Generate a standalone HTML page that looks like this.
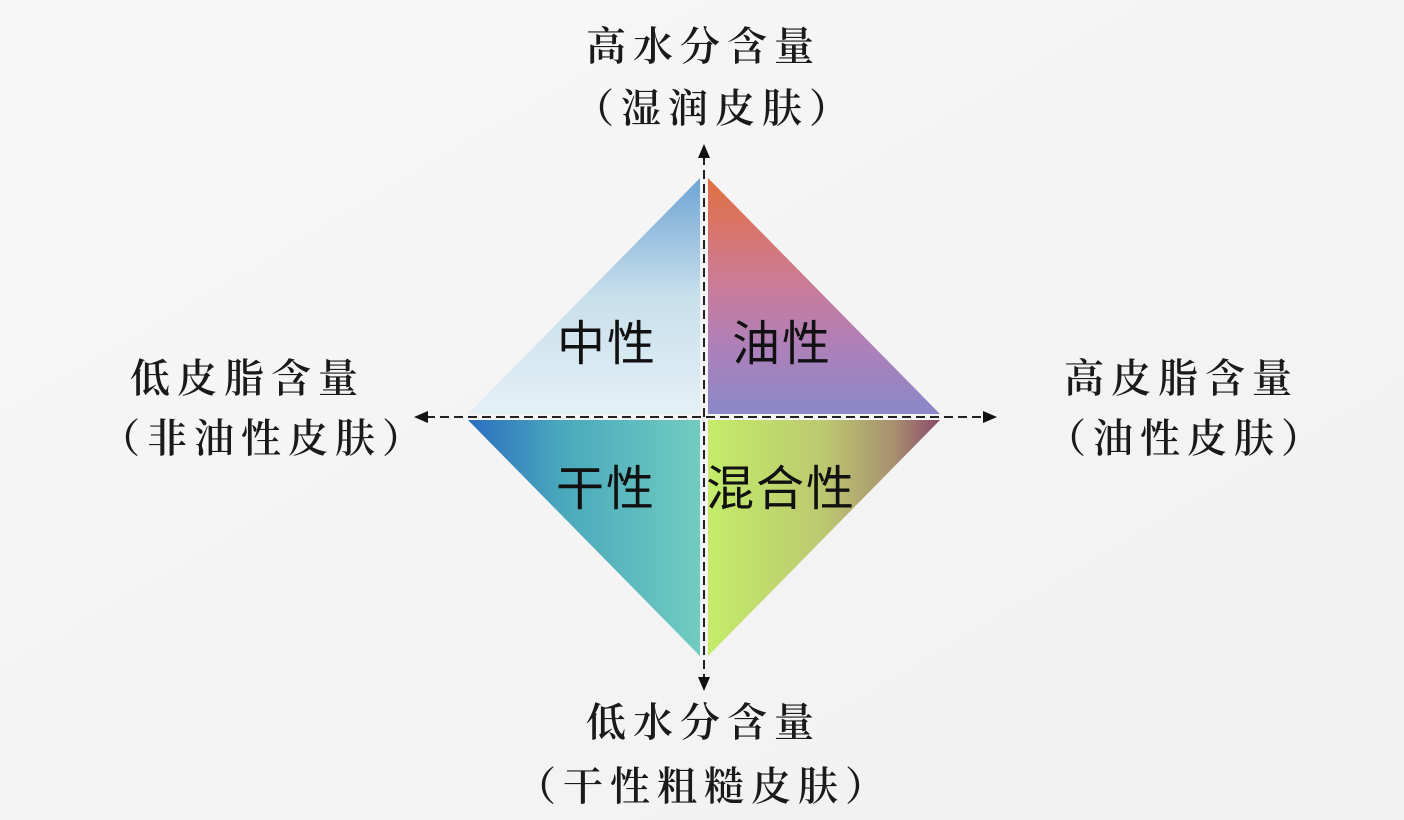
<!DOCTYPE html>
<html><head><meta charset="utf-8"><style>
html,body{margin:0;padding:0;width:1404px;height:820px;overflow:hidden;background:#f4f4f4}
svg{display:block}
.s{font-family:"Liberation Serif","Noto Serif CJK SC",serif;font-size:40px;font-weight:600;fill:#1a1a1a;letter-spacing:7px}
.q{font-family:"Liberation Sans","Noto Sans CJK SC",sans-serif;font-size:48px;font-weight:400;fill:#111;letter-spacing:2px}
</style></head><body>
<svg width="1404" height="820" viewBox="0 0 1404 820">
<defs>
<linearGradient id="bg" x1="0" y1="0" x2="1" y2="1"><stop offset="0" stop-color="#f7f7f7"/><stop offset="1" stop-color="#f1f1f1"/></linearGradient>
<linearGradient id="g1" x1="0" y1="0" x2="0" y2="1"><stop offset="0" stop-color="#6fa4d4"/><stop offset="0.5" stop-color="#c8dfec"/><stop offset="1" stop-color="#e4f0f5"/></linearGradient>
<linearGradient id="g2" x1="0" y1="0" x2="0" y2="1"><stop offset="0" stop-color="#e07040"/><stop offset="0.4" stop-color="#d07a90"/><stop offset="0.7" stop-color="#b080b8"/><stop offset="1" stop-color="#8a88c8"/></linearGradient>
<linearGradient id="g3" x1="0" y1="0" x2="1" y2="0"><stop offset="0" stop-color="#2a6ec0"/><stop offset="0.4" stop-color="#4aa8bc"/><stop offset="1" stop-color="#70ccc0"/></linearGradient>
<linearGradient id="g4" x1="0" y1="0" x2="1" y2="0"><stop offset="0" stop-color="#c4ec6a"/><stop offset="0.5" stop-color="#bcc870"/><stop offset="0.8" stop-color="#a89070"/><stop offset="1" stop-color="#8a4a6a"/></linearGradient>
</defs>
<rect width="1404" height="820" fill="url(#bg)"/>
<polygon points="700,178 700,414 468,414" fill="url(#g1)"/>
<polygon points="708,178 708,414 940,414" fill="url(#g2)"/>
<polygon points="468,420 700,420 700,656" fill="url(#g3)"/>
<polygon points="708,420 940,420 708,656" fill="url(#g4)"/>
<g stroke="#222" stroke-width="2" stroke-dasharray="9,5" fill="none">
<line x1="704" y1="156" x2="704" y2="680"/>
<line x1="426" y1="417" x2="986" y2="417"/>
</g>
<g fill="#111">
<polygon points="704,144 698,158 710,158"/>
<polygon points="704,691 698,677 710,677"/>
<polygon points="414,417 428,411 428,423"/>
<polygon points="997,417 983,411 983,423"/>
</g>
<text class="s" x="586" y="60">高水分含量</text>
<text class="s" x="574" y="122">（湿润皮肤）</text>
<text class="s" x="130" y="392">低皮脂含量</text>
<text class="s" x="100" y="452">（非油性皮肤）</text>
<text class="s" x="1064" y="392">高皮脂含量</text>
<text class="s" x="1046" y="452">（油性皮肤）</text>
<text class="s" x="586" y="736">低水分含量</text>
<text class="s" x="516" y="800">（干性粗糙皮肤）</text>
<text class="q" x="557" y="360">中性</text>
<text class="q" x="732" y="360">油性</text>
<text class="q" x="556" y="505">干性</text>
<text class="q" x="706" y="505">混合性</text>
</svg>
</body></html>
